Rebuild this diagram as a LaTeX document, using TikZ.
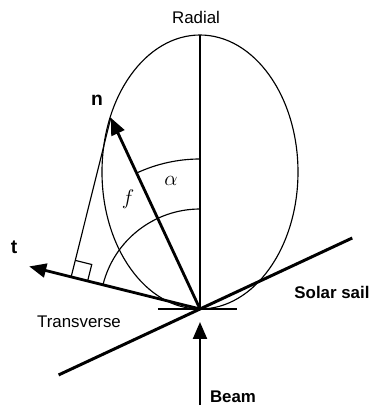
\documentclass[tikz,border=0pt]{standalone}
\usepackage{fontspec}
\setmainfont{Liberation Sans}
\usetikzlibrary{positioning, arrows.meta, calc}

\begin{document}
\begin{tikzpicture}[x=0.02cm, y=0.02cm,
    thinline/.style={line width=0.65pt},
    vec/.style={line width=1.6pt, -{Triangle[length=0.34cm, width=0.28cm]}},
    axislbl/.style={font=\fontsize{9.6}{11}\selectfont, inner sep=0pt},
    boldlbl/.style={font=\fontsize{9.6}{11}\selectfont\bfseries, inner sep=0pt},
    veclbl/.style={font=\fontsize{11}{13}\selectfont\bfseries, inner sep=0pt},
    anglbl/.style={font=\fontsize{12}{14}\selectfont, inner sep=0pt}
  ]
  \useasboundingbox (-200,-98) rectangle (170,309);
  \coordinate (O) at (0,0);
  \coordinate (top) at (0,274);
  \coordinate (ntip) at (115:211);
  \coordinate (ttip) at (166:176);
  \coordinate (sailL) at (205:156);
  \coordinate (sailR) at (25:168);
  \coordinate (baseL) at (-42,0);
  \coordinate (baseR) at (37,0);
  \coordinate (beamS) at (0,-96);
  \coordinate (beamE) at (0,-13);
  \coordinate (foot) at ($(O)!(ntip)!(ttip)$);
  \coordinate (sqA) at ($(foot)!0.34cm!(O)$);
  \coordinate (sqB) at ($(foot)!0.34cm!(ntip)$);

  % force curve and radial axis
  \draw[thinline] (0,137) ellipse [x radius=98, y radius=137];
  \draw[thinline] (O) -- (top);
  \draw[thinline] (baseL) -- (baseR);

  % angle arcs
  \draw[thinline] (0,150) arc [start angle=90, end angle=115, radius=150];
  \draw[thinline] (0,100) arc [start angle=90, end angle=166, radius=100];

  % projection onto t
  \draw[thinline] (ntip) -- (foot);
  \draw[thinline] (sqA) -- ($(sqA)+(sqB)-(foot)$) -- (sqB);

  % sail and vectors
  \draw[line width=1.7pt] (sailL) -- (sailR);
  \draw[vec] (O) -- (ntip);
  \draw[vec] (O) -- (ttip);
  \draw[vec, line width=1.3pt] (beamS) -- (beamE);

  \node[axislbl] (radial) at (-4,292) {Radial};
  \node[axislbl] (trans) at (-121,-13) {Transverse};
  \node[boldlbl] (sail) at (132,17) {Solar sail};
  \node[boldlbl] (beam) at (33,-88) {Beam};
  \node[veclbl] (nlbl) at (-103,209) {n};
  \node[veclbl] (tlbl) at (-186,62) {t};
  \node[anglbl] (alpha) at (-29,128) {$\alpha$};
  \node[anglbl] (flbl) at (-72,110) {$f$};
\end{tikzpicture}
\end{document}
